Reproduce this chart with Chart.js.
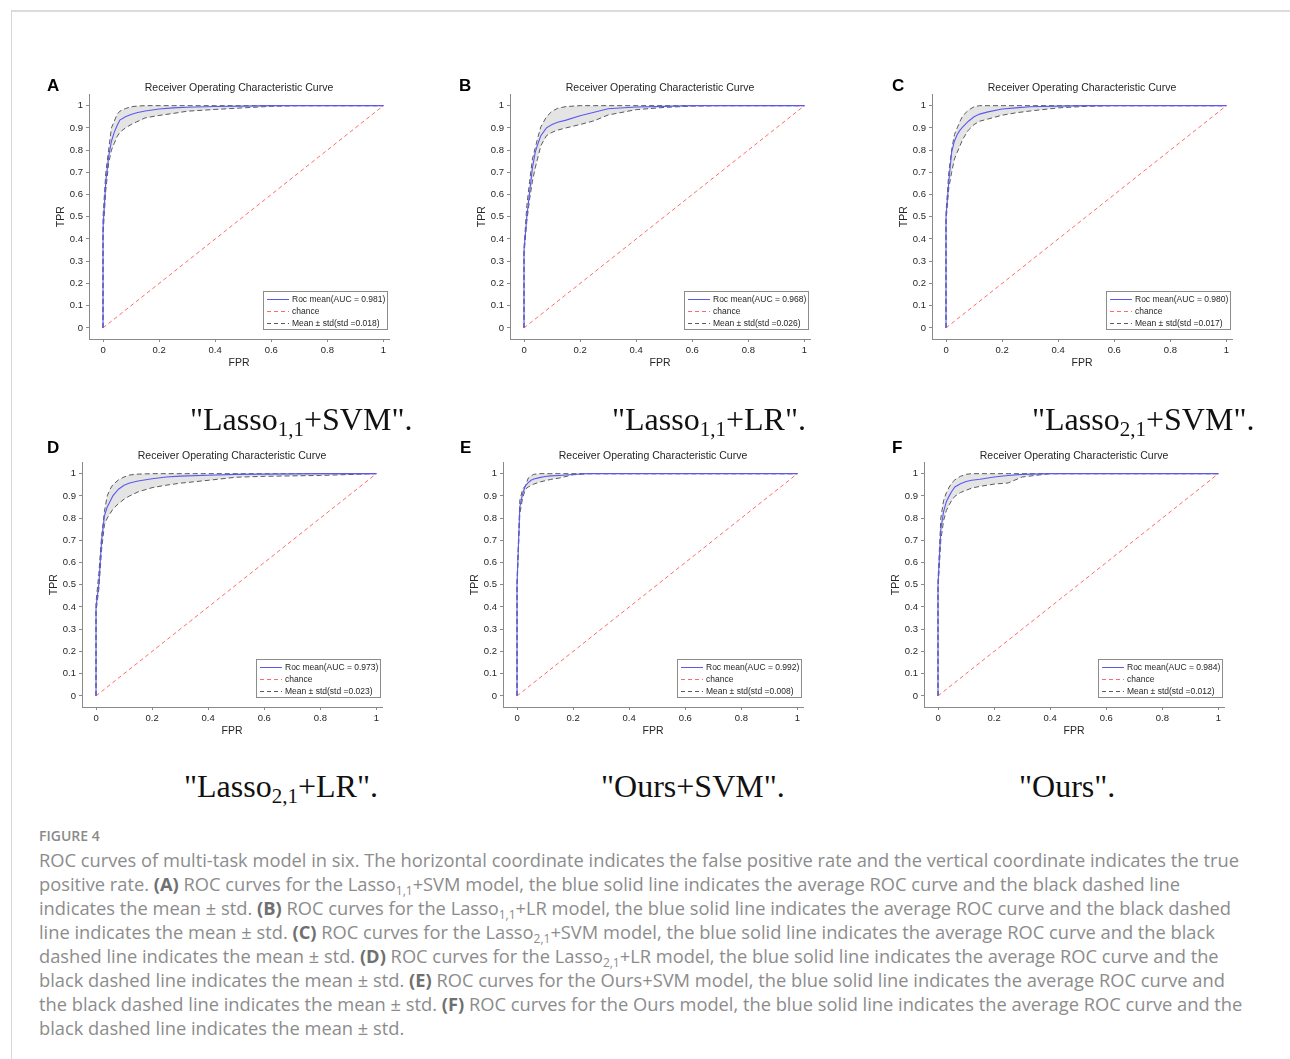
<!DOCTYPE html>
<html>
<head>
<meta charset="utf-8">
<script src="https://cdn.jsdelivr.net/npm/chart.js@4.4.1/dist/chart.umd.min.js"></script>
<style>
  html, body { margin: 0; padding: 0; background: #fff; }
  #page { position: relative; width: 1290px; height: 1059px; overflow: hidden; background: #fff; }
  .frame-top { position: absolute; left: 11px; top: 10px; width: 1290px; height: 2px; background: #dcdcdc; }
  .frame-left { position: absolute; left: 11px; top: 10px; width: 1px; height: 1060px; background: #d6d6d6; }
  canvas.roc { position: absolute; }
  .letter { position: absolute; font: bold 17px "Liberation Sans", Arial, sans-serif; line-height: 1; color: #000; }
  .name { position: absolute; font: 32px "Liberation Serif", "Times New Roman", serif; line-height: 1; color: #111; white-space: nowrap; }
  .name sub { font-size: 21px; vertical-align: -6px; line-height: 0; }
  .fig-label { position: absolute; left: 39px; top: 828px; font: 600 14px "Open Sans", Lato, sans-serif; line-height: 16px; color: #8a8a8a; }
  .fig-text { position: absolute; left: 39px; top: 848px; font: 18.3px "Open Sans", Lato, sans-serif; line-height: 24px; color: #8c8c8c; white-space: nowrap; }
  .fig-text b { color: #707070; font-weight: 700; }
  .fig-text sub { font-size: 12px; vertical-align: -4px; line-height: 0; }
</style>
</head>
<body>
<div id="page">
  <div class="frame-top"></div>
  <div class="frame-left"></div>

  <canvas class="roc" id="rocA" width="388" height="288" style="left:49px; top:81px;"></canvas>
  <canvas class="roc" id="rocB" width="388" height="288" style="left:470px; top:81px;"></canvas>
  <canvas class="roc" id="rocC" width="388" height="288" style="left:892px; top:81px;"></canvas>
  <canvas class="roc" id="rocD" width="388" height="288" style="left:42px; top:449px;"></canvas>
  <canvas class="roc" id="rocE" width="388" height="288" style="left:463px; top:449px;"></canvas>
  <canvas class="roc" id="rocF" width="388" height="288" style="left:884px; top:449px;"></canvas>

  <div class="letter" style="left:47px; top:77px;">A</div>
  <div class="letter" style="left:459px; top:77px;">B</div>
  <div class="letter" style="left:892px; top:77px;">C</div>
  <div class="letter" style="left:47px; top:439px;">D</div>
  <div class="letter" style="left:460px; top:439px;">E</div>
  <div class="letter" style="left:892px; top:439px;">F</div>

  <div class="name" style="left:190px; top:403px;">"Lasso<sub>1,1</sub>+SVM".</div>
  <div class="name" style="left:612px; top:403px;">"Lasso<sub>1,1</sub>+LR".</div>
  <div class="name" style="left:1032px; top:403px;">"Lasso<sub>2,1</sub>+SVM".</div>
  <div class="name" style="left:184px; top:770px;">"Lasso<sub>2,1</sub>+LR".</div>
  <div class="name" style="left:601px; top:770px;">"Ours+SVM".</div>
  <div class="name" style="left:1019px; top:770px;">"Ours".</div>

  <div class="fig-label">FIGURE 4</div>
  <div class="fig-text">
    ROC curves of multi-task model in six. The horizontal coordinate indicates the false positive rate and the vertical coordinate indicates the true<br>
    positive rate. <b>(A)</b> ROC curves for the Lasso<sub>1,1</sub>+SVM model, the blue solid line indicates the average ROC curve and the black dashed line<br>
    indicates the mean ± std. <b>(B)</b> ROC curves for the Lasso<sub>1,1</sub>+LR model, the blue solid line indicates the average ROC curve and the black dashed<br>
    line indicates the mean ± std. <b>(C)</b> ROC curves for the Lasso<sub>2,1</sub>+SVM model, the blue solid line indicates the average ROC curve and the black<br>
    dashed line indicates the mean ± std. <b>(D)</b> ROC curves for the Lasso<sub>2,1</sub>+LR model, the blue solid line indicates the average ROC curve and the<br>
    black dashed line indicates the mean ± std. <b>(E)</b> ROC curves for the Ours+SVM model, the blue solid line indicates the average ROC curve and<br>
    the black dashed line indicates the mean ± std. <b>(F)</b> ROC curves for the Ours model, the blue solid line indicates the average ROC curve and the<br>
    black dashed line indicates the mean ± std.
  </div>
</div>

<script>
// shared false positive rate grid (first two points: origin, then the jump at FPR = 0)
const FPR = [0, 0, 0.01, 0.02, 0.03, 0.04, 0.05, 0.06, 0.08, 0.1, 0.12, 0.15, 0.2, 0.25, 0.3, 0.4, 0.5, 0.6, 0.7, 0.8, 0.9, 1];
const CHANCE = [0, 1];
const X_TICKS = [0, 0.2, 0.4, 0.6, 0.8, 1];
const Y_TICKS = [0, 0.1, 0.2, 0.3, 0.4, 0.5, 0.6, 0.7, 0.8, 0.9, 1];

// (A) Lasso1,1 + SVM
const A_MEAN  = [0, .45, .66, .77, .84, .88, .91, .935, .95, .96, .968, .976, .985, .99, .993, .996, .998, 1, 1, 1, 1, 1];
const A_UPPER = [0, .5, .7, .8, .9, .93, .96, .975, .987, .995, .998, 1, 1, 1, 1, 1, 1, 1, 1, 1, 1, 1];
const A_LOWER = [0, .42, .62, .74, .8, .83, .86, .88, .9, .915, .927, .945, .956, .965, .975, .983, .99, .997, 1, 1, 1, 1];
// (B) Lasso1,1 + LR
const B_MEAN  = [0, .35, .5, .61, .72, .79, .83, .865, .9, .915, .925, .935, .955, .97, .986, .994, .997, 1, 1, 1, 1, 1];
const B_UPPER = [0, .36, .55, .66, .76, .81, .86, .905, .95, .975, .988, .996, 1, 1, 1, 1, 1, 1, 1, 1, 1, 1];
const B_LOWER = [0, .33, .48, .58, .66, .72, .77, .82, .865, .88, .89, .9, .915, .932, .958, .982, .992, .998, 1, 1, 1, 1];
// (C) Lasso2,1 + SVM
const C_MEAN  = [0, .5, .66, .79, .84, .87, .89, .905, .93, .95, .962, .972, .985, .99, .995, .998, 1, 1, 1, 1, 1, 1];
const C_UPPER = [0, .52, .7, .8, .87, .9, .93, .955, .98, .995, 1, 1, 1, 1, 1, 1, 1, 1, 1, 1, 1, 1];
const C_LOWER = [0, .48, .63, .7, .76, .79, .82, .85, .89, .915, .93, .94, .957, .968, .976, .99, .997, 1, 1, 1, 1, 1];
// (D) Lasso2,1 + LR
const D_MEAN  = [0, .4, .5, .7, .81, .85, .875, .9, .93, .948, .958, .967, .977, .985, .989, .993, .997, .998, .999, 1, 1, 1];
const D_UPPER = [0, .42, .55, .72, .83, .9, .93, .95, .972, .985, .994, .998, 1, 1, 1, 1, 1, 1, 1, 1, 1, 1];
const D_LOWER = [0, .38, .48, .66, .77, .8, .82, .84, .865, .885, .9, .918, .937, .948, .957, .97, .984, .988, .99, .992, .996, 1];
// (E) Ours + SVM
const E_MEAN  = [0, .5, .85, .91, .945, .96, .97, .976, .982, .987, .99, .992, .996, 1, 1, 1, 1, 1, 1, 1, 1, 1];
const E_UPPER = [0, .52, .88, .93, .946, .98, .99, .997, 1, 1, 1, 1, 1, 1, 1, 1, 1, 1, 1, 1, 1, 1];
const E_LOWER = [0, .48, .82, .89, .93, .94, .947, .953, .962, .968, .974, .98, .995, 1, 1, 1, 1, 1, 1, 1, 1, 1];
// (F) Ours
const F_MEAN  = [0, .5, .75, .83, .875, .9, .922, .94, .955, .965, .97, .975, .985, .992, .997, 1, 1, 1, 1, 1, 1, 1];
const F_UPPER = [0, .52, .8, .88, .915, .94, .96, .972, .988, .997, 1, 1, 1, 1, 1, 1, 1, 1, 1, 1, 1, 1];
const F_LOWER = [0, .48, .7, .79, .835, .86, .882, .898, .915, .925, .935, .943, .953, .958, .985, 1, 1, 1, 1, 1, 1, 1];

const AUC = [0.981, 0.968, 0.980, 0.973, 0.992, 0.984];
const STD = [0.018, 0.026, 0.017, 0.023, 0.008, 0.012];

const MEAN_COLOR = '#5a5af2';
const STD_COLOR = '#5a5a5a';
const CHANCE_COLOR = '#ff6a6a';
const AXIS_COLOR = '#8a8a8a';
const TEXT_COLOR = '#262626';
const FONT = '"Liberation Sans", Arial, sans-serif';

// legend box drawn in the lower-right corner of the axes, like MATLAB's 'southeast'
function legendPlugin(rows) {
  return {
    id: 'rocLegend',
    afterDatasetsDraw(chart) {
      const { ctx, chartArea } = chart;
      ctx.save();
      ctx.font = '8.5px ' + FONT;
      const textW = Math.max(...rows.map(r => ctx.measureText(r.text).width));
      const w = Math.round(textW + 31), h = 38;
      const x = Math.round(chartArea.right - 2 - w), y = Math.round(chartArea.bottom - 10 - h);
      ctx.fillStyle = '#fff';
      ctx.fillRect(x, y, w, h);
      ctx.strokeStyle = '#8c8c8c';
      ctx.lineWidth = 1;
      ctx.strokeRect(x + 0.5, y + 0.5, w, h);
      rows.forEach((r, i) => {
        const cy = y + 8.5 + i * 12;
        ctx.setLineDash(r.dash);
        ctx.strokeStyle = r.color;
        ctx.beginPath();
        ctx.moveTo(x + 4, cy);
        ctx.lineTo(x + 26, cy);
        ctx.stroke();
        ctx.setLineDash([]);
        ctx.fillStyle = TEXT_COLOR;
        ctx.textBaseline = 'middle';
        ctx.fillText(r.text, x + 29, cy);
      });
      ctx.restore();
    }
  };
}

function points(ys) {
  return FPR.map((x, i) => ({ x: x, y: ys[i] }));
}

function axisOpts(min, max, tickList, title, isX) {
  return {
    type: 'linear',
    min: min,
    max: max,
    afterBuildTicks: axis => { axis.ticks = tickList.map(v => ({ value: v })); },
    afterFit: s => { if (isX) s.height = 30; else s.width = 40; },
    grid: { display: true, drawOnChartArea: false, drawTicks: true, tickLength: 3, color: AXIS_COLOR },
    border: { display: true, color: AXIS_COLOR, width: 1 },
    ticks: {
      padding: 3,
      color: TEXT_COLOR,
      font: { family: FONT, size: 9.5 },
      maxRotation: 0,
      autoSkip: false,
      callback: v => String(v)
    },
    title: {
      display: true,
      text: title,
      color: TEXT_COLOR,
      font: { family: FONT, size: 10.5, lineHeight: 1.2 },
      padding: isX ? { top: 0, bottom: 0 } : { top: 6, bottom: 0 }
    }
  };
}

function makeRoc(id, mean, upper, lower, auc, std) {
  const ctx = document.getElementById(id).getContext('2d');
  const rows = [
    { text: 'Roc mean(AUC = ' + auc.toFixed(3) + ')', color: MEAN_COLOR, dash: [] },
    { text: 'chance', color: CHANCE_COLOR, dash: [4, 3] },
    { text: 'Mean \u00b1 std(std =' + std.toFixed(3) + ')', color: STD_COLOR, dash: [4, 3] }
  ];
  return new Chart(ctx, {
    type: 'line',
    data: {
      datasets: [
        {
          label: 'Roc mean',
          data: points(mean),
          borderColor: MEAN_COLOR,
          borderWidth: 1.1,
          pointRadius: 0,
          tension: 0,
          fill: false,
          order: 0
        },
        {
          label: 'chance',
          data: [{ x: CHANCE[0], y: CHANCE[0] }, { x: CHANCE[1], y: CHANCE[1] }],
          borderColor: CHANCE_COLOR,
          borderWidth: 1,
          borderDash: [4, 3],
          pointRadius: 0,
          fill: false,
          order: 1
        },
        {
          label: 'upper',
          data: points(upper),
          borderColor: STD_COLOR,
          borderWidth: 1,
          borderDash: [5, 3],
          pointRadius: 0,
          tension: 0,
          fill: false,
          order: 2
        },
        {
          label: 'lower',
          data: points(lower),
          borderColor: STD_COLOR,
          borderWidth: 1,
          borderDash: [5, 3],
          backgroundColor: '#e4e4e4',
          pointRadius: 0,
          tension: 0,
          fill: { target: 2 },
          order: 3
        }
      ]
    },
    options: {
      responsive: false,
      animation: false,
      events: [],
      layout: { padding: { left: 0, right: 48, top: 0, bottom: 0 } },
      scales: {
        x: axisOpts(-0.05, 1.02, X_TICKS, 'FPR', true),
        y: axisOpts(-0.05, 1.05, Y_TICKS, 'TPR', false)
      },
      plugins: {
        legend: { display: false },
        tooltip: { enabled: false },
        title: {
          display: true,
          fullSize: false,
          text: 'Receiver Operating Characteristic Curve',
          color: TEXT_COLOR,
          font: { family: FONT, size: 10.5, weight: 'normal', lineHeight: 1.1 },
          padding: { top: 1, bottom: 1 }
        }
      }
    },
    plugins: [legendPlugin(rows)]
  });
}

makeRoc('rocA', A_MEAN, A_UPPER, A_LOWER, AUC[0], STD[0]);
makeRoc('rocB', B_MEAN, B_UPPER, B_LOWER, AUC[1], STD[1]);
makeRoc('rocC', C_MEAN, C_UPPER, C_LOWER, AUC[2], STD[2]);
makeRoc('rocD', D_MEAN, D_UPPER, D_LOWER, AUC[3], STD[3]);
makeRoc('rocE', E_MEAN, E_UPPER, E_LOWER, AUC[4], STD[4]);
makeRoc('rocF', F_MEAN, F_UPPER, F_LOWER, AUC[5], STD[5]);
</script>
</body>
</html>
